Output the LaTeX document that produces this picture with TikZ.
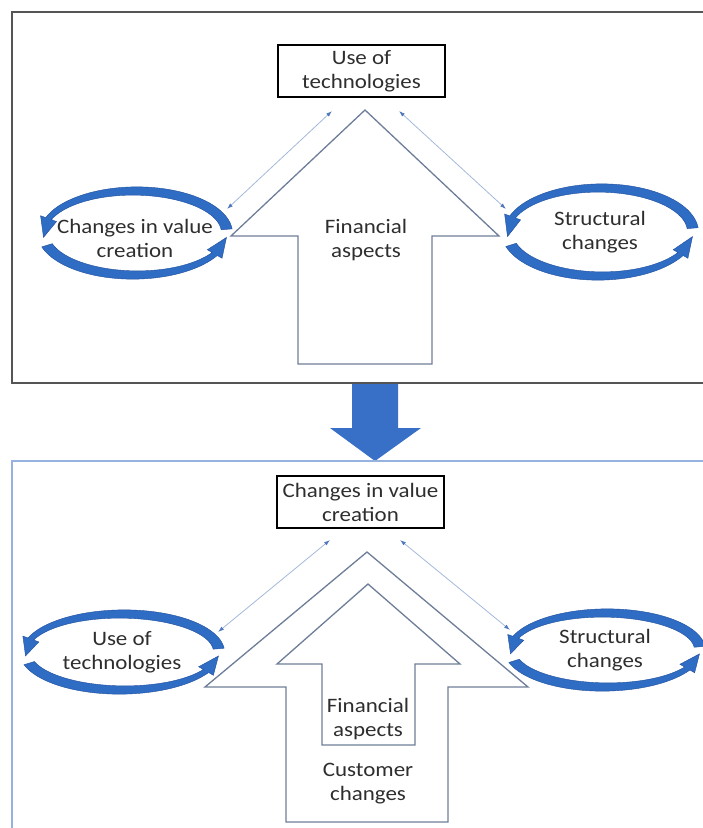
\documentclass[tikz,border=0pt]{standalone}
\usepackage{fontspec}
\setmainfont{Carlito}[FakeStretch=1.12]
\usetikzlibrary{arrows.meta}
\definecolor{txt}{HTML}{2E2E2E}
\definecolor{arcblue}{HTML}{2F6CC4}
\definecolor{arcedge}{HTML}{1F4E9A}
\definecolor{bigblue}{HTML}{3870C8}
\definecolor{outl}{HTML}{6E7E99}
\definecolor{dbl}{HTML}{A3B9D9}
\definecolor{dblhead}{HTML}{4F78BE}
\definecolor{frametwo}{HTML}{95B3DE}
\definecolor{frameone}{HTML}{555555}
\newcommand\circarr[7]{%
 \filldraw[circstyle]
  plot[domain=#5:#6, variable=\t, samples=40, smooth]
   ({#1+(#3+(5.5-2.5*(\t-#5)/(#6-#5)))*cos(\t)},{#2+(#4+(5.5-2.5*(\t-#5)/(#6-#5)))*sin(\t)})
  -- ({#1+(#3+8.5)*cos(#6)},{#2+(#4+8.5)*sin(#6)})
  -- ({#1+#3*cos(#7)},{#2+#4*sin(#7)})
  -- ({#1+(#3-8.5)*cos(#6)},{#2+(#4-8.5)*sin(#6)})
  -- plot[domain=#6:#5, variable=\t, samples=40, smooth]
   ({#1+(#3-(5.5-2.5*(\t-#5)/(#6-#5)))*cos(\t)},{#2+(#4-(5.5-2.5*(\t-#5)/(#6-#5)))*sin(\t)})
  -- cycle;}
\begin{document}
\begin{tikzpicture}[x=1pt,y=1pt,
  lbl/.style={text=txt, align=center, font=\fontsize{20.5}{24}\selectfont, inner sep=0pt},
  boxnode/.style={lbl, draw=black, line width=1.5pt, minimum width=167pt, minimum height=52pt},
  frameA/.style={draw=frameone, line width=2pt},
  frameB/.style={draw=frametwo, line width=1.5pt},
  bigarrow/.style={draw=outl, line width=1.3pt, fill=white, line join=miter},
  dblarrow/.style={draw=dbl, line width=0.8pt, {Latex[length=6pt,width=4pt,color=dblhead]}-{Latex[length=6pt,width=4pt,color=dblhead]}},
  circstyle/.style={fill=arcblue, draw=arcedge, line width=0.4pt},
  downarrow/.style={fill=bigblue, draw=none}]
\useasboundingbox (0,0) rectangle (703,-828);
\clip (0,0) rectangle (703,-828);
% ---------- upper panel ----------
\draw[frameA] (12,-12) rectangle (720,-383);
\node[boxnode] (top1) at (361.5,-71) {Use of\\technologies};
\draw[bigarrow] (365,-110) -- (499,-236) -- (432,-236) -- (432,-364) -- (298,-364) -- (298,-236) -- (231,-236) -- cycle;
\node[lbl] (fin1) at (366,-240) {Financial\\aspects};
\circarr{135}{-233}{92}{42}{5}{160}{186}
\circarr{135}{-233}{92}{42}{197}{330}{354}
\node[lbl] (left1) at (135,-238) {Changes in value\\creation};
\circarr{600}{-232}{93}{44}{5}{160}{186}
\circarr{600}{-232}{93}{44}{197}{330}{354}
\node[lbl] (right1) at (600,-232) {Structural\\changes};
\coordinate (u1a) at (332,-111);
\coordinate (u1b) at (227,-209);
\coordinate (u2a) at (399,-111);
\coordinate (u2b) at (506,-209);
\draw[dblarrow] (u1a) -- (u1b);
\draw[dblarrow] (u2a) -- (u2b);
% ---------- blue arrow ----------
\fill[downarrow] (352,-384) -- (398,-384) -- (398,-428) -- (421,-428) -- (375,-461) -- (330,-428) -- (352,-428) -- cycle;
% ---------- lower panel ----------
\draw[frameB] (12,-461) rectangle (720,-840);
\node[boxnode] (top2) at (360.5,-502) {Changes in value\\creation};
\draw[bigarrow] (367,-552) -- (528,-687) -- (448,-687) -- (448,-822) -- (286,-822) -- (286,-687) -- (205,-687) -- cycle;
\draw[bigarrow] (368,-584) -- (460,-664) -- (415,-664) -- (415,-745) -- (322,-745) -- (322,-664) -- (277,-664) -- cycle;
\node[lbl] (fin2) at (368,-719) {Financial\\aspects};
\node[lbl] (cust2) at (368,-784) {Customer\\changes};
\circarr{122}{-652}{97}{38}{5}{160}{186}
\circarr{122}{-652}{97}{38}{197}{330}{354}
\node[lbl] (left2) at (122,-652) {Use of\\technologies};
\circarr{605}{-650}{95}{37}{5}{160}{186}
\circarr{605}{-650}{95}{37}{197}{330}{354}
\node[lbl] (right2) at (605,-650) {Structural\\changes};
\coordinate (l1a) at (330,-540);
\coordinate (l1b) at (218,-632);
\coordinate (l2a) at (400,-540);
\coordinate (l2b) at (510,-630);
\draw[dblarrow] (l1a) -- (l1b);
\draw[dblarrow] (l2a) -- (l2b);
\end{tikzpicture}
\end{document}
